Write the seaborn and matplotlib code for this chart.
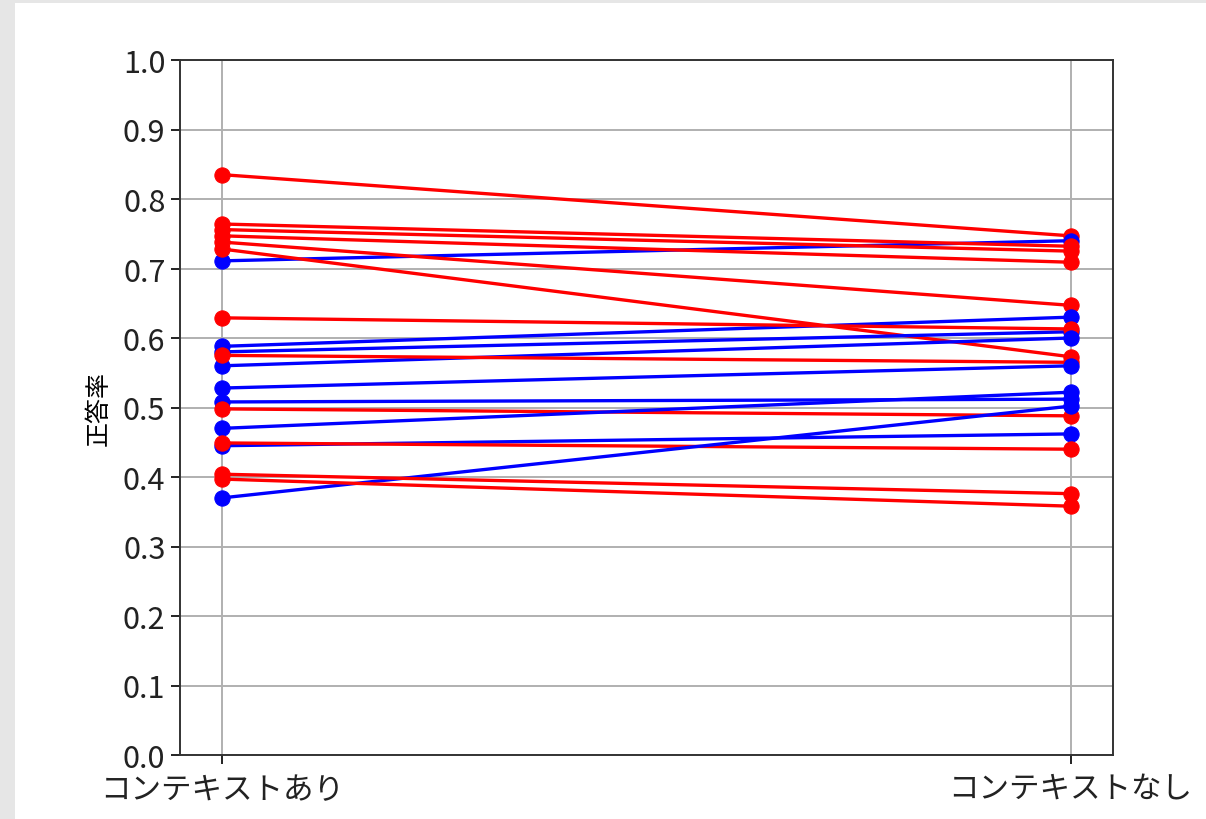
import numpy as np
import pandas as pd
import seaborn as sns
import matplotlib.pyplot as plt
import matplotlib.patches as mpatches

# =========================
# DATA
# =========================

conditions = ["コンテキストあり", "コンテキストなし"]

# accuracy per participant: (with context, without context)
red_with = [0.835, 0.764, 0.756, 0.747, 0.738, 0.728, 0.629, 0.575, 0.498, 0.449, 0.404, 0.397]
red_without = [0.747, 0.732, 0.725, 0.709, 0.647, 0.573, 0.613, 0.565, 0.488, 0.440, 0.376, 0.358]

blue_with = [0.711, 0.588, 0.580, 0.560, 0.528, 0.508, 0.470, 0.445, 0.370]
blue_without = [0.740, 0.630, 0.609, 0.600, 0.560, 0.512, 0.522, 0.462, 0.502]

# =========================
# STYLE
# =========================

plt.rcParams['font.family'] = ['Noto Sans CJK JP', 'DejaVu Sans']

fig = plt.figure(figsize=(12.06, 8.20), dpi=100)
fig.patch.set_facecolor('#e6e6e6')
fig.patches.append(mpatches.Rectangle((15 / 1206, 0), 1 - 15 / 1206, 1 - 4 / 820,
                                      transform=fig.transFigure, facecolor='white',
                                      edgecolor='none', zorder=-1))

ax = fig.add_axes([180 / 1206, (820 - 756) / 820, (1113 - 180) / 1206, (756 - 61) / 820])

# =========================
# LINES
# =========================

lines = []
for a, b in zip(red_with, red_without):
    lines.append(("red", a, b))
for a, b in zip(blue_with, blue_without):
    lines.append(("blue", a, b))

# interleave drawing order a bit
order = [0, 12, 1, 2, 3, 4, 5, 13, 14, 6, 15, 7, 16, 17, 8, 18, 19, 9, 20, 10, 11]
for i in order:
    color, a, b = lines[i]
    df = pd.DataFrame({'x': [0, 1], 'acc': [a, b]})
    sns.lineplot(data=df, x='x', y='acc', color=color, marker='o',
                 markersize=11, markeredgecolor=color, linewidth=2.4, ax=ax)

# =========================
# AXES
# =========================

ax.set_xlim(-0.05, 1.05)
ax.set_ylim(0, 1.0)
ax.set_xticks([0, 1])
ax.set_xticklabels(conditions)
ax.set_yticks(np.arange(0, 1.01, 0.1))
ax.set_yticklabels([f"{v:.1f}" for v in np.arange(0, 1.01, 0.1)])
ax.tick_params(labelsize=22, length=6.5, width=1.4, colors='#222222')
ax.tick_params(axis='x', pad=7)
ax.tick_params(axis='y', pad=4)
ax.grid(True, color='#b0b0b0', linewidth=1.4)
ax.set_axisbelow(True)
for s in ax.spines.values():
    s.set_linewidth(1.4)
    s.set_color('#333333')

ax.set_xlabel("")
ax.set_ylabel("正答率", fontsize=18, labelpad=8)

fig.savefig("out.png", dpi=100, facecolor=fig.get_facecolor())
